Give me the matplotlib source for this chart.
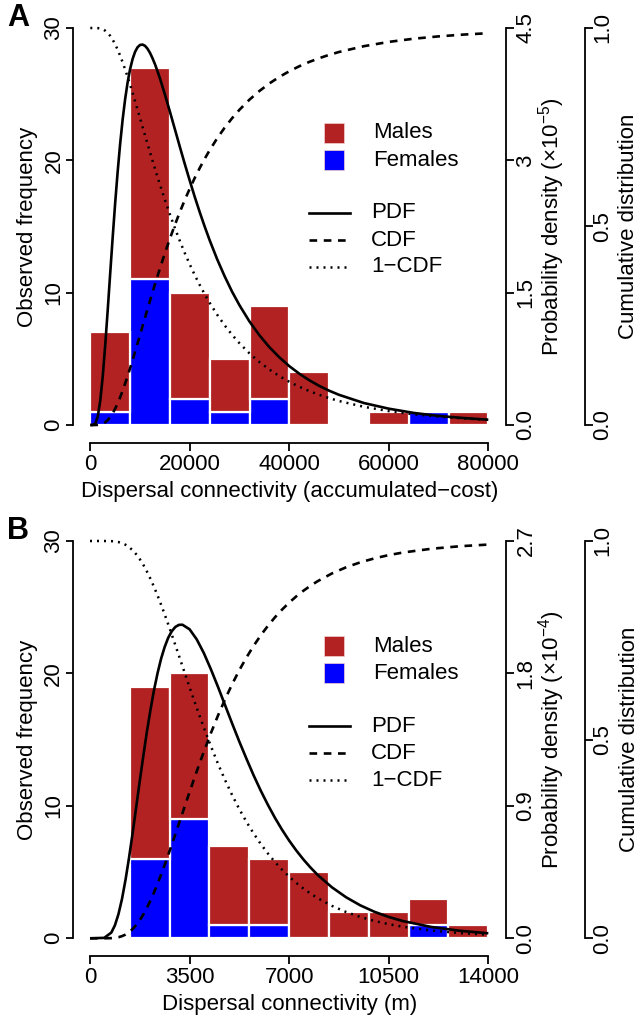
import numpy as np
import matplotlib
matplotlib.use('Agg')
import matplotlib.pyplot as plt
from matplotlib.patches import Rectangle
from matplotlib.lines import Line2D

plt.rcParams['font.family'] = ['Liberation Sans', 'DejaVu Sans']
plt.rcParams['mathtext.fontset'] = 'custom'
plt.rcParams['mathtext.rm'] = 'Liberation Sans'
plt.rcParams['mathtext.it'] = 'Liberation Sans:italic'
plt.rcParams['mathtext.bf'] = 'Liberation Sans:bold'

# ---------------- Panel A data ----------------
a_bin_edges = [0, 8000, 16000, 24000, 32000, 40000, 48000, 56000, 64000, 72000, 80000]
a_males = [6, 16, 8, 4, 7, 4, 0, 1, 0, 1]
a_females = [1, 11, 2, 1, 2, 0, 0, 0, 1, 0]
a_curve_x = [0, 500, 1000, 1500, 2000, 2500, 3000, 3500, 4000, 4500,
             5000, 5500, 6000, 6500, 7000, 7500, 8000, 8500, 9000, 9500,
             10000, 10500, 11000, 11500, 12000, 12500, 13000, 13500, 14000, 15000,
             16000, 17000, 18000, 19000, 20000, 21000, 22000, 23000, 24000, 25500,
             27000, 28500, 30000, 32000, 34000, 36000, 38000, 40000, 42000, 44000,
             46000, 48000, 50000, 55000, 60000, 65000, 70000, 75000, 80000]
a_pdf = [0.0, 0.0004, 0.016, 0.096, 0.275, 0.551, 0.905, 1.302, 1.719, 2.128,
         2.517, 2.871, 3.188, 3.462, 3.693, 3.883, 4.034, 4.148, 4.230, 4.282,
         4.308, 4.312, 4.298, 4.265, 4.218, 4.158, 4.089, 4.012, 3.929, 3.746,
         3.552, 3.353, 3.153, 2.957, 2.768, 2.585, 2.412, 2.248, 2.093, 1.879,
         1.686, 1.511, 1.356, 1.173, 1.017, 0.882, 0.767, 0.667, 0.582, 0.508,
         0.444, 0.389, 0.342, 0.249, 0.185, 0.137, 0.103, 0.079, 0.060]  # x1e-5
a_cdf = [0.0, 0.0, 0.0, 0.0003, 0.0012, 0.0032, 0.0068, 0.0123, 0.0198, 0.0295,
         0.0411, 0.0546, 0.0697, 0.0864, 0.1044, 0.1232, 0.1430, 0.1635, 0.1845, 0.2058,
         0.2272, 0.2488, 0.2704, 0.2918, 0.3130, 0.3339, 0.3545, 0.3748, 0.3946, 0.4330,
         0.4695, 0.5040, 0.5365, 0.5671, 0.5957, 0.6225, 0.6474, 0.6707, 0.6924, 0.7221,
         0.7489, 0.7728, 0.7943, 0.8196, 0.8414, 0.8604, 0.8768, 0.8911, 0.9036, 0.9145,
         0.9239, 0.9323, 0.9396, 0.9542, 0.9650, 0.9730, 0.9789, 0.9834, 0.9869]
a_xticks = [0, 20000, 40000, 60000, 80000]
a_xticklabels = ['0', '20000', '40000', '60000', '80000']
a_pdf_ticks = [0, 1.5, 3, 4.5]
a_pdf_ticklabels = ['0.0', '1.5', '3', '4.5']

# ---------------- Panel B data ----------------
b_bin_edges = [1400, 2800, 4200, 5600, 7000, 8400, 9800, 11200, 12600, 14000]
b_males = [13, 11, 6, 5, 5, 2, 2, 2, 1]
b_females = [6, 9, 1, 1, 0, 0, 0, 1, 0]
b_curve_x = [0, 500, 750, 875, 1000, 1125, 1250, 1375, 1500, 1625,
             1750, 1875, 2000, 2125, 2250, 2375, 2500, 2625, 2750, 2875,
             3000, 3125, 3250, 3500, 3750, 4000, 4250, 4500, 4750, 5000,
             5250, 5500, 5750, 6000, 6250, 6500, 6750, 7000, 7250, 7500,
             7750, 8000, 8500, 9000, 9500, 10000, 10500, 11000, 12000, 13000,
             14000]
b_pdf = [0.0, 0.003, 0.039, 0.088, 0.164, 0.268, 0.399, 0.551, 0.718, 0.893,
         1.070, 1.241, 1.404, 1.552, 1.687, 1.802, 1.901, 1.980, 2.043, 2.087,
         2.116, 2.130, 2.131, 2.100, 2.032, 1.939, 1.828, 1.708, 1.583, 1.458,
         1.336, 1.220, 1.108, 1.004, 0.908, 0.819, 0.738, 0.664, 0.597, 0.536,
         0.481, 0.431, 0.347, 0.279, 0.224, 0.180, 0.145, 0.117, 0.077, 0.051,
         0.034]  # x1e-4
b_cdf = [0.0, 0.0, 0.0004, 0.0012, 0.0027, 0.0054, 0.0095, 0.0155, 0.0234, 0.0335,
         0.0457, 0.0601, 0.0767, 0.0951, 0.1155, 0.1372, 0.1605, 0.1846, 0.2099, 0.2357,
         0.2621, 0.2885, 0.3152, 0.3682, 0.4199, 0.4695, 0.5166, 0.5609, 0.6020, 0.6401,
         0.6751, 0.7069, 0.7360, 0.7624, 0.7862, 0.8079, 0.8273, 0.8449, 0.8606, 0.8747,
         0.8874, 0.8988, 0.9182, 0.9338, 0.9463, 0.9563, 0.9645, 0.9710, 0.9805, 0.9868,
         0.9910]
b_xticks = [0, 3500, 7000, 10500, 14000]
b_xticklabels = ['0', '3500', '7000', '10500', '14000']
b_pdf_ticks = [0, 0.9, 1.8, 2.7]
b_pdf_ticklabels = ['0.0', '0.9', '1.8', '2.7']

freq_ticks = [0, 10, 20, 30]
cum_ticks = [0, 0.5, 1.0]
cum_ticklabels = ['0.0', '0.5', '1.0']

RED = '#B22222'
BLUE = '#0000FF'
FS = 16
W, H = 642, 1022
TL = 5.4   # tick length (pt)
LW_AX = 1.3

fig = plt.figure(figsize=(W / 100, H / 100), dpi=100)


def fx(x):
    return x / W


def fy(y):
    return 1 - y / H


def style_right(a, outward, top, ticks, ticklabels, label, label_x, pad):
    for s in ['top', 'left', 'bottom']:
        a.spines[s].set_visible(False)
    a.spines['right'].set_position(('outward', outward))
    a.spines['right'].set_bounds(0, top)
    a.spines['right'].set_linewidth(LW_AX)
    a.set_ylim(0, top)
    a.set_yticks(ticks)
    a.set_yticklabels(ticklabels, rotation=90, va='center', ha='center')
    a.tick_params(axis='y', length=TL, width=LW_AX, labelsize=FS, pad=pad)
    a.tick_params(axis='x', bottom=False, labelbottom=False)
    a.set_ylabel(label, fontsize=FS)
    a.yaxis.set_label_coords(label_x, 0.5)
    a.yaxis.label.set_va('center')
    a.yaxis.label.set_ha('center')


def panel(rect_px, edges, males, females, cx, pdf, cdf, xticks, xticklabels,
          pdf_ticks, pdf_ticklabels, xlabel, pdf_label, letter, leg_y0):
    x0, ytop, x1, ybot = rect_px
    ax = fig.add_axes([fx(x0), fy(ybot), (x1 - x0) / W, (ybot - ytop) / H])
    edges = np.array(edges, dtype=float)
    widths = np.diff(edges)
    males = np.array(males, dtype=float)
    females = np.array(females, dtype=float)
    ax.bar(edges[:-1], females, width=widths, align='edge', color=BLUE,
           edgecolor='white', linewidth=1.6)
    ax.bar(edges[:-1], males, bottom=females, width=widths, align='edge', color=RED,
           edgecolor='white', linewidth=1.6)
    ax.set_xlim(xticks[0], xticks[-1])
    ax.set_ylim(0, 30)
    for s in ['top', 'right']:
        ax.spines[s].set_visible(False)
    ax.spines['left'].set_position(('outward', 12.5))
    ax.spines['bottom'].set_position(('outward', 13))
    ax.spines['left'].set_bounds(0, 30)
    ax.spines['bottom'].set_bounds(xticks[0], xticks[-1])
    for s in ['left', 'bottom']:
        ax.spines[s].set_linewidth(LW_AX)
    ax.set_xticks(xticks)
    ax.set_xticklabels(xticklabels)
    ax.set_yticks(freq_ticks)
    ax.set_yticklabels([str(t) for t in freq_ticks], rotation=90, va='center', ha='center')
    ax.tick_params(axis='x', length=TL, width=LW_AX, labelsize=FS, pad=2.3)
    ax.tick_params(axis='y', length=TL, width=LW_AX, labelsize=FS, pad=8.2)
    ax.set_xlabel(xlabel, fontsize=FS)
    ax.xaxis.set_label_coords(0.5, (ybot - (ybot + 66)) / (ybot - ytop))
    ax.xaxis.label.set_va('center')
    ax.set_ylabel('Observed frequency', fontsize=FS)
    ax.yaxis.set_label_coords((28 - x0) / (x1 - x0), 0.5)
    ax.yaxis.label.set_va('center')

    # PDF axis
    ax2 = ax.twinx()
    style_right(ax2, 12.7, pdf_ticks[-1], pdf_ticks, pdf_ticklabels, pdf_label,
                (552 - x0) / (x1 - x0), 9.0)
    ax2.plot(cx, pdf, color='black', lw=1.9, clip_on=False, solid_capstyle='butt')

    # Cumulative axis
    ax3 = ax.twinx()
    style_right(ax3, 69.6, 1, cum_ticks, cum_ticklabels, 'Cumulative distribution',
                (629 - x0) / (x1 - x0), 7.6)
    cdf = np.array(cdf)
    ax3.plot(cx, cdf, color='black', lw=1.9, dashes=(2.9, 2.5), clip_on=False)
    ax3.plot(cx, 1 - cdf, color='black', lw=1.8, dashes=(0.8, 2.0), clip_on=False)

    # panel letter
    fig.text(fx(18), fy(leg_y0 - 115), letter, fontsize=22, fontweight='bold',
             ha='center', va='center')

    # legend (drawn manually)
    for i, (lab, col) in enumerate([('Males', RED), ('Females', BLUE)]):
        yc = leg_y0 + 27 * i
        fig.add_artist(Rectangle((fx(324), fy(yc + 10)), 20 / W, 20 / H,
                                 transform=fig.transFigure, facecolor=col,
                                 edgecolor='#f3d0d0', lw=0.5))
        fig.text(fx(373), fy(yc), lab, fontsize=FS, ha='left', va='center')
    styles = [dict(lw=1.9), dict(lw=1.9, dashes=(2.9, 2.5)), dict(lw=1.8, dashes=(0.8, 2.0))]
    for i, (lab, st) in enumerate(zip(['PDF', 'CDF', '1\u2212CDF'], styles)):
        yc = leg_y0 + 80 + 27 * i
        fig.add_artist(Line2D([fx(309), fx(350)], [fy(yc), fy(yc)],
                              transform=fig.transFigure, color='black', **st))
        fig.text(fx(371), fy(yc), lab, fontsize=FS, ha='left', va='center')
    return ax


panel((90.3, 28, 488.3, 425), a_bin_edges, a_males, a_females, a_curve_x, a_pdf, a_cdf,
      a_xticks, a_xticklabels, a_pdf_ticks, a_pdf_ticklabels,
      'Dispersal connectivity (accumulated\u2212cost)',
      'Probability density (\u00d710$^{\u22125}$)', 'A', 133)

panel((90.0, 541, 488.3, 938.3), b_bin_edges, b_males, b_females, b_curve_x, b_pdf, b_cdf,
      b_xticks, b_xticklabels, b_pdf_ticks, b_pdf_ticklabels,
      'Dispersal connectivity (m)',
      'Probability density (\u00d710$^{\u22124}$)', 'B', 646)

fig.savefig('out.png', dpi=100)
